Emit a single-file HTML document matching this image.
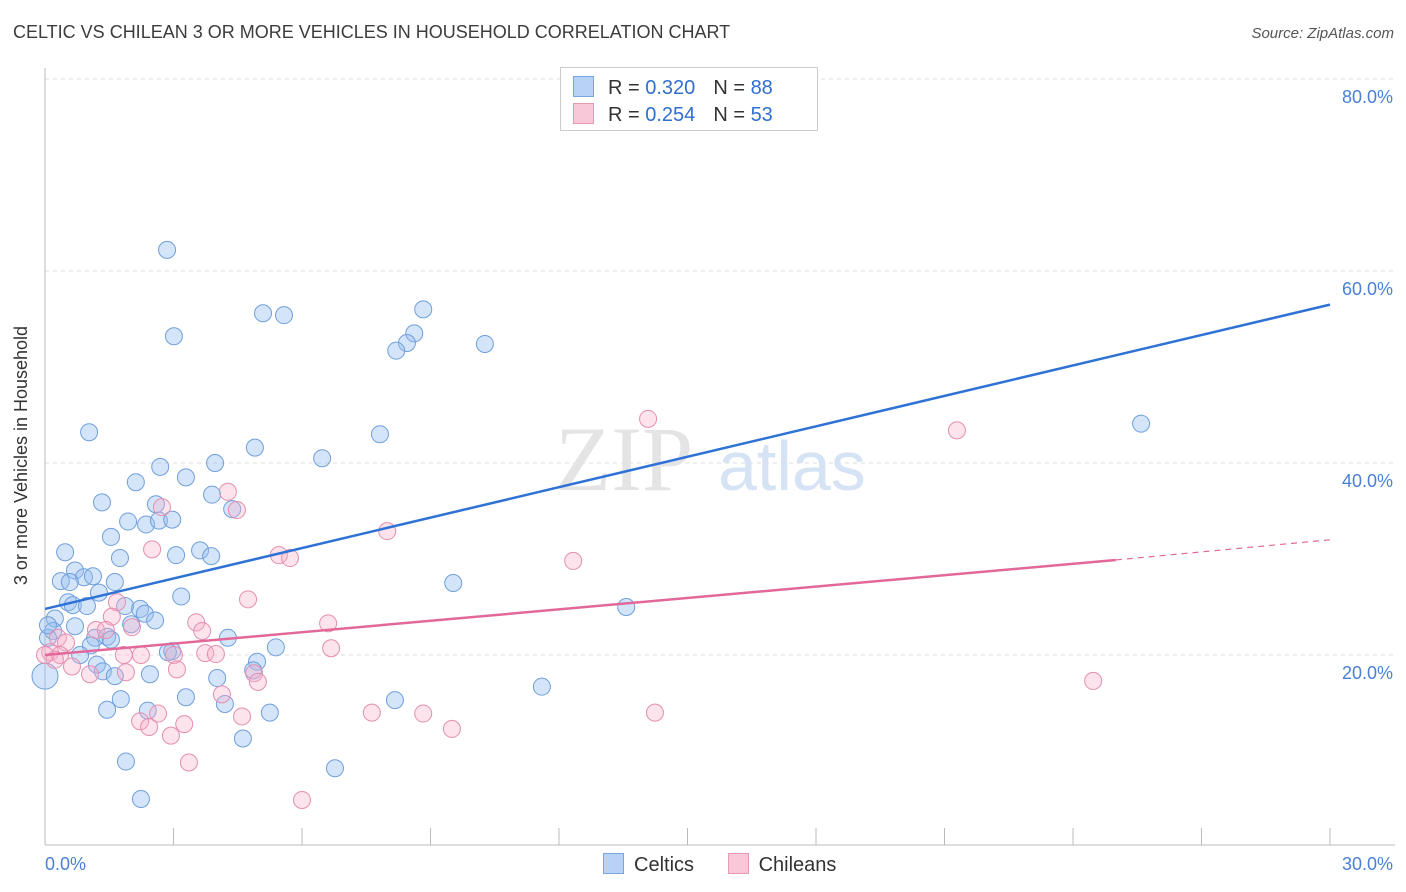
<!DOCTYPE html>
<html><head><meta charset="utf-8">
<style>
body{margin:0;background:#fff;font-family:"Liberation Sans",sans-serif;}
#wrap{position:relative;width:1406px;height:892px;overflow:hidden;}
.t{position:absolute;white-space:nowrap;}
</style></head>
<body>
<div id="wrap">
<div class="t" style="left:13px;top:22px;font-size:18px;color:#3c3c3c;">CELTIC VS CHILEAN 3 OR MORE VEHICLES IN HOUSEHOLD CORRELATION CHART</div>
<div class="t" style="right:12px;top:25px;font-size:15px;color:#555;font-style:italic;">Source: ZipAtlas.com</div>
<div class="t" style="left:-108px;top:445px;font-size:18px;color:#333;transform:rotate(-90deg);">3 or more Vehicles in Household</div>
<svg id="svg" width="1406" height="892" style="position:absolute;left:0;top:0"></svg>
</div>
<script>
const xMin=0,xMax=30,yMin=0,yMax=80;
const yTicks=[20,40,60,80];
const yTickLabels=["20.0%","40.0%","60.0%","80.0%"];
const xTickLabels=["0.0%","30.0%"];
const celticX=[2.85,3.01,5.09,5.58,8.83,8.62,8.45,8.20,10.27,1.03,7.82,6.47,4.90,2.69,3.97,3.29,2.12,1.33,3.90,2.59,4.37,1.94,2.36,2.66,2.97,1.54,0.47,1.75,3.06,3.62,3.88,0.70,0.91,1.12,0.37,0.58,1.63,3.18,1.26,9.53,13.57,0.54,0.65,0.98,1.87,2.22,2.33,2.57,2.01,0.23,0.70,0.19,0.07,1.17,1.45,1.54,1.07,4.27,5.39,2.97,2.87,0.82,4.95,1.21,1.35,1.63,2.45,4.86,4.02,0,3.29,1.77,4.20,1.45,2.40,5.25,8.17,11.60,4.62,1.89,6.77,2.24,25.59,0.07];
const celticY=[62.2,53.2,55.6,55.4,56.0,53.5,52.5,51.7,52.4,43.2,43.0,40.5,41.6,39.6,40.0,38.5,38.0,35.9,36.7,35.7,35.2,33.9,33.6,34.0,34.1,32.3,30.7,30.1,30.4,30.9,30.3,28.8,28.1,28.2,27.7,27.6,27.6,26.1,26.5,27.5,25.0,25.5,25.2,25.1,25.1,24.8,24.3,23.6,23.2,23.8,23.0,22.5,21.8,21.8,21.9,21.6,21.0,21.8,20.8,20.4,20.3,20.0,19.3,19.0,18.3,17.8,18.0,18.4,17.6,17.8,15.6,15.4,14.9,14.3,14.2,14.0,15.3,16.7,11.3,8.9,8.2,5.0,44.1,23.1];
const chileanX=[14.08,21.29,7.99,12.33,5.46,5.72,4.27,4.48,2.73,2.50,4.74,1.68,1.56,3.53,3.67,2.03,6.61,1.19,0.30,1.42,0.49,6.68,1.84,2.24,3.01,3.74,3.99,0.12,0.35,0.23,0.63,1.05,1.89,3.08,4.88,4.97,4.13,24.47,2.64,2.22,2.43,3.25,4.60,7.63,8.83,14.24,9.50,2.94,3.36,6.00,0];
const chileanY=[44.6,43.4,32.9,29.8,30.4,30.1,37.0,35.1,35.4,31.0,25.8,25.5,24.0,23.4,22.5,22.9,23.3,22.6,21.8,22.6,21.3,20.7,20.0,20.0,20.0,20.2,20.1,20.3,20.0,19.5,18.8,18.0,18.2,18.5,18.1,17.2,15.9,17.3,13.9,13.1,12.5,12.8,13.6,14.0,13.9,14.0,12.3,11.6,8.8,4.9,20.0];
const celticTrendX=[0,30], celticTrendY=[24.8,56.5];
const chileanTrendX=[0,25,30], chileanTrendY=[20.0,29.9,32.0];

const L=45,R=1330,T=79,B=847;
const sx=v=>L+(v-xMin)/(xMax-xMin)*(R-L);
const sy=v=>B-(v-yMin)/(yMax-yMin)*(B-T);
const svg=document.getElementById('svg');
const NS='http://www.w3.org/2000/svg';
function mk(tag,attrs,name){const e=document.createElementNS(NS,tag);for(const k in attrs)e.setAttribute(k,attrs[k]);


svg.appendChild(e);return e;}
yTicks.forEach((v,i)=>{
 mk('line',{x1:L,x2:1395,y1:sy(v),y2:sy(v),stroke:'#ddd','stroke-dasharray':'4,4'},'y-gridline');
 const t=mk('text',{x:1393,y:sy(v)+24,'text-anchor':'end','font-size':18,fill:'#4a7fd6','font-family':'Liberation Sans'},'y-tick-label');t.textContent=yTickLabels[i];
});
mk('line',{x1:L,x2:L,y1:68,y2:845,stroke:'#bbb'},'y-axis-line');
mk('line',{x1:L,x2:1395,y1:845,y2:845,stroke:'#bbb'},'x-axis-line');
for(let i=0;i<=10;i++){const x=L+i*(R-L)/10;mk('line',{x1:x,x2:x,y1:828,y2:845,stroke:'#bbb'},'x-tick');}
let t=mk('text',{x:45,y:870,'font-size':18,fill:'#4a7fd6','font-family':'Liberation Sans'},'x-tick-label');t.textContent=xTickLabels[0];
t=mk('text',{x:1393,y:870,'text-anchor':'end','font-size':18,fill:'#4a7fd6','font-family':'Liberation Sans'},'x-tick-label');t.textContent=xTickLabels[1];
t=mk('text',{x:555,y:490,'font-size':92,fill:'#e4e4e4','font-family':'Liberation Serif'},'watermark-zip');t.textContent='ZIP';
t=mk('text',{x:718,y:490,'font-size':70,fill:'#d6e3f5','font-family':'Liberation Sans'},'watermark-atlas');t.textContent='atlas';
celticX.forEach((x,i)=>{const big=(x===0);mk('circle',{cx:sx(x),cy:sy(celticY[i]),r:big?13:8.5,fill:'rgba(150,190,240,0.4)',stroke:'#6f9fdc','stroke-width':1},'celtic-point');});
chileanX.forEach((x,i)=>{mk('circle',{cx:sx(x),cy:sy(chileanY[i]),r:8.5,fill:'rgba(245,175,200,0.35)',stroke:'#e58eb0','stroke-width':1},'chilean-point');});
mk('line',{x1:sx(celticTrendX[0]),y1:sy(celticTrendY[0]),x2:sx(celticTrendX[1]),y2:sy(celticTrendY[1]),stroke:'#2f72d6','stroke-width':2.5},'celtic-trend-line');
mk('line',{x1:sx(chileanTrendX[0]),y1:sy(chileanTrendY[0]),x2:sx(chileanTrendX[1]),y2:sy(chileanTrendY[1]),stroke:'#e2689a','stroke-width':2.5},'chilean-trend-line');
mk('line',{x1:sx(chileanTrendX[1]),y1:sy(chileanTrendY[1]),x2:sx(chileanTrendX[2]),y2:sy(chileanTrendY[2]),stroke:'#e2689a','stroke-width':1.2,'stroke-dasharray':'6,5'},'chilean-trend-extension');
</script>
<div style="position:absolute;left:560px;top:67px;width:256px;height:62px;border:1px solid #ccc;background:#fff;font-size:20px;">
 <div style="position:absolute;left:12px;top:8px;white-space:nowrap;"><span style="display:inline-block;width:19px;height:19px;background:#b8d2f5;border:1px solid #7aa6e0;vertical-align:-3px;margin-right:14px;"></span><span style="color:#333">R = </span><span style="color:#2f6fd0">0.320</span><span style="color:#333;margin-left:18px;">N = </span><span style="color:#2f6fd0">88</span></div>
 <div style="position:absolute;left:12px;top:35px;white-space:nowrap;"><span style="display:inline-block;width:19px;height:19px;background:#f8c8d8;border:1px solid #e899b6;vertical-align:-3px;margin-right:14px;"></span><span style="color:#333">R = </span><span style="color:#2f6fd0">0.254</span><span style="color:#333;margin-left:18px;">N = </span><span style="color:#2f6fd0">53</span></div>
</div>
<div style="position:absolute;left:603px;top:853px;font-size:20px;color:#333;white-space:nowrap;">
 <span><span style="display:inline-block;width:19px;height:19px;background:#b8d2f5;border:1px solid #7aa6e0;vertical-align:-3px;margin-right:10px;"></span>Celtics</span>
 <span style="margin-left:28px;"><span style="display:inline-block;width:19px;height:19px;background:#f8c8d8;border:1px solid #e899b6;vertical-align:-3px;margin-right:10px;"></span>Chileans</span>
</div>
</body></html>
